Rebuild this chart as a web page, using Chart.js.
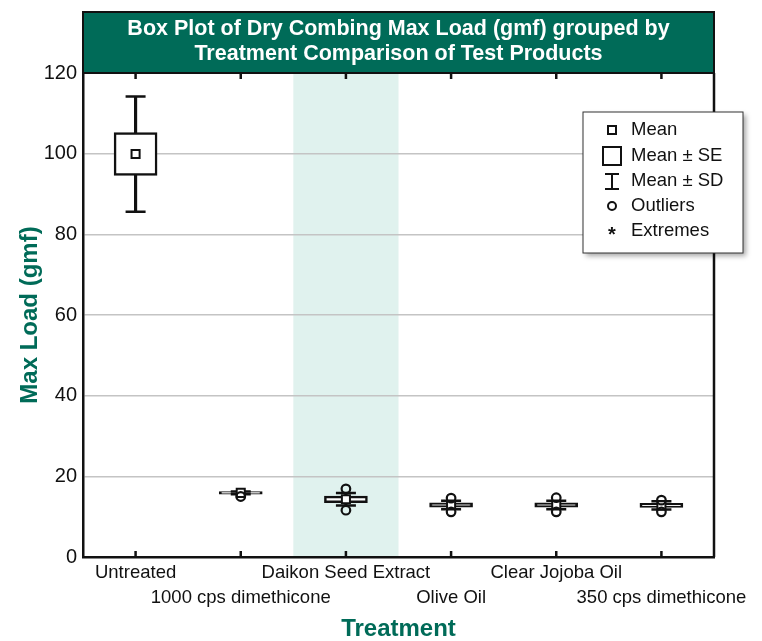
<!DOCTYPE html>
<html lang="en">
<head>
  <meta charset="UTF-8" />
  <title>Box Plot of Dry Combing Max Load</title>
  <style>
    body { margin: 0; background: #fff; }
    #wrap { width: 762px; height: 641px; }
  </style>
</head>
<body>
  <div id="wrap"><canvas id="boxChart" width="762" height="641"></canvas></div>

  <script src="https://cdn.jsdelivr.net/npm/chart.js"></script>
  <script>
    // data
    const categories = ['Untreated', '1000 cps dimethicone', 'Daikon Seed Extract', 'Olive Oil', 'Clear Jojoba Oil', '350 cps dimethicone'];
    const means = [99.9, 15.9, 14.3, 12.9, 12.9, 12.8];
    const se = [5.3, 0.35, 0.8, 0.55, 0.55, 0.5];
    const sd = [14.3, 0.35, 1.55, 1.05, 1.05, 1.05];
    const outliers = [[], [15.0], [16.9, 11.6], [14.6, 11.2], [14.7, 11.2], [14.1, 11.2]];
    const yTicks = [0, 20, 40, 60, 80, 100, 120];
    const highlighted = 'Daikon Seed Extract';

    const green = '#006b58';
    const font = "'Liberation Sans', Arial, sans-serif";

    const seBox = means.map((m, i) => [m - se[i], m + se[i]]);
    const sdStem = means.map((m, i) => [m - sd[i], m + sd[i]]);
    const capPts = [];
    means.forEach((m, i) => {
      capPts.push({ x: categories[i], y: m + sd[i] });
      capPts.push({ x: categories[i], y: m - sd[i] });
    });
    const outPts = [];
    outliers.forEach((list, i) => list.forEach(v => outPts.push({ x: categories[i], y: v })));

    // band behind one category, drawn under the grid
    const bandPlugin = {
      id: 'band',
      beforeDraw(chart) {
        const { ctx, chartArea, scales: { x } } = chart;
        const i = categories.indexOf(highlighted);
        const w = x.getPixelForValue(1) - x.getPixelForValue(0);
        const cx = x.getPixelForValue(i);
        ctx.save();
        ctx.fillStyle = '#e0f2ee';
        ctx.fillRect(cx - w / 2, chartArea.top, w, chartArea.bottom - chartArea.top);
        ctx.restore();
      }
    };

    // frame, inward ticks, title band and legend box
    const decorPlugin = {
      id: 'decor',
      afterDraw(chart) {
        const { ctx, chartArea: a, scales: { x } } = chart;
        ctx.save();
        ctx.strokeStyle = '#111';
        ctx.lineWidth = 2.5;
        ctx.beginPath();
        ctx.moveTo(a.right, a.top);
        ctx.lineTo(a.right, a.bottom);
        categories.forEach((c, i) => {
          const px = x.getPixelForValue(i);
          ctx.moveTo(px, a.bottom);
          ctx.lineTo(px, a.bottom - 6);
          ctx.moveTo(px, a.top);
          ctx.lineTo(px, a.top + 6);
        });
        ctx.stroke();

        // title band
        ctx.fillStyle = green;
        ctx.fillRect(a.left, 12, a.right - a.left, a.top - 12);
        ctx.lineWidth = 2;
        ctx.strokeRect(a.left, 12, a.right - a.left, a.top - 12);
        ctx.fillStyle = '#fff';
        ctx.font = 'bold 21.5px ' + font;
        ctx.textAlign = 'center';
        ctx.textBaseline = 'middle';
        const tx = (a.left + a.right) / 2;
        ctx.fillText('Box Plot of Dry Combing Max Load (gmf) grouped by', tx, 29);
        ctx.fillText('Treatment Comparison of Test Products', tx, 54);

        // legend
        const lx = 583, ly = 112, lw = 160, lh = 141;
        ctx.shadowColor = 'rgba(0,0,0,0.35)';
        ctx.shadowBlur = 5;
        ctx.shadowOffsetX = 3;
        ctx.shadowOffsetY = 3;
        ctx.fillStyle = '#fff';
        ctx.fillRect(lx, ly, lw, lh);
        ctx.shadowColor = 'transparent';
        ctx.lineWidth = 1;
        ctx.strokeStyle = '#333';
        ctx.strokeRect(lx, ly, lw, lh);

        const ix = 612, rows = [130, 156, 181, 206, 231];
        ctx.strokeStyle = '#111';
        ctx.lineWidth = 2;
        ctx.strokeRect(ix - 4, rows[0] - 4, 8, 8);
        ctx.strokeRect(ix - 9, rows[1] - 9, 18, 18);
        ctx.beginPath();
        ctx.moveTo(ix - 7, rows[2] - 7); ctx.lineTo(ix + 7, rows[2] - 7);
        ctx.moveTo(ix, rows[2] - 7); ctx.lineTo(ix, rows[2] + 8);
        ctx.moveTo(ix - 7, rows[2] + 8); ctx.lineTo(ix + 7, rows[2] + 8);
        ctx.stroke();
        ctx.beginPath();
        ctx.arc(ix, rows[3], 4, 0, Math.PI * 2);
        ctx.stroke();
        ctx.fillStyle = '#111';
        ctx.font = 'bold 20px ' + font;
        ctx.fillText('*', ix, rows[4] + 4);

        ctx.font = '18.5px ' + font;
        ctx.textAlign = 'left';
        ['Mean', 'Mean \u00b1 SE', 'Mean \u00b1 SD', 'Outliers', 'Extremes'].forEach((t, i) => {
          ctx.fillText(t, 631, rows[i]);
        });
        ctx.restore();
      }
    };

    new Chart(document.getElementById('boxChart'), {
      type: 'bar',
      data: {
        labels: categories,
        datasets: [
          {
            type: 'scatter',
            label: 'Outliers',
            data: outPts,
            pointStyle: 'circle',
            pointRadius: 4.3,
            backgroundColor: 'rgba(255,255,255,0)',
            borderColor: '#111',
            borderWidth: 2.2,
            order: 0
          },
          {
            type: 'line',
            label: 'Mean',
            data: means,
            showLine: false,
            pointStyle: 'rect',
            pointRadius: 5.7,
            backgroundColor: '#fff',
            borderColor: '#111',
            borderWidth: 2,
            order: 1
          },
          {
            type: 'scatter',
            label: 'SD caps',
            data: capPts,
            pointStyle: 'line',
            pointRadius: 10,
            borderColor: '#111',
            borderWidth: 2.5,
            order: 1
          },
          {
            label: 'Mean \u00b1 SE',
            data: seBox,
            grouped: false,
            barThickness: 43,
            backgroundColor: '#fff',
            borderColor: '#111',
            borderWidth: 2.5,
            borderSkipped: false,
            order: 2
          },
          {
            label: 'Mean \u00b1 SD',
            data: sdStem,
            grouped: false,
            barThickness: 2.5,
            backgroundColor: '#111',
            borderWidth: 0,
            order: 3
          }
        ]
      },
      options: {
        responsive: false,
        animation: false,
        layout: { padding: { top: 73, right: 48, left: 0, bottom: 0 } },
        plugins: {
          legend: { display: false },
          tooltip: { enabled: false }
        },
        scales: {
          x: {
            type: 'category',
            offset: true,
            grid: { display: false, drawTicks: false },
            border: { color: '#111', width: 2.5 },
            ticks: {
              autoSkip: false,
              maxRotation: 0,
              padding: 3,
              color: '#111',
              font: { family: font, size: 18.5, lineHeight: 1.35 },
              callback: (v, i) => i % 2 === 0 ? [categories[i], ''] : ['', categories[i]]
            },
            title: {
              display: true,
              text: 'Treatment',
              color: green,
              font: { family: font, size: 24, weight: 'bold', lineHeight: 1 },
              padding: 0
            },
            afterFit: s => { s.height = 84; }
          },
          y: {
            min: 0,
            max: 120,
            afterBuildTicks: s => { s.ticks = yTicks.map(v => ({ value: v })); },
            grid: { color: '#c4c4c4', lineWidth: 1.5, drawTicks: false },
            border: { color: '#111', width: 2.5 },
            ticks: {
              padding: 6,
              color: '#111',
              font: { family: font, size: 20 }
            },
            title: {
              display: true,
              text: 'Max Load (gmf)',
              color: green,
              font: { family: font, size: 24, weight: 'bold', lineHeight: 1.2 },
              padding: { top: 16, bottom: 0 }
            },
            afterFit: s => { s.width = 83; }
          }
        }
      },
      plugins: [bandPlugin, decorPlugin]
    });
  </script>
</body>
</html>
